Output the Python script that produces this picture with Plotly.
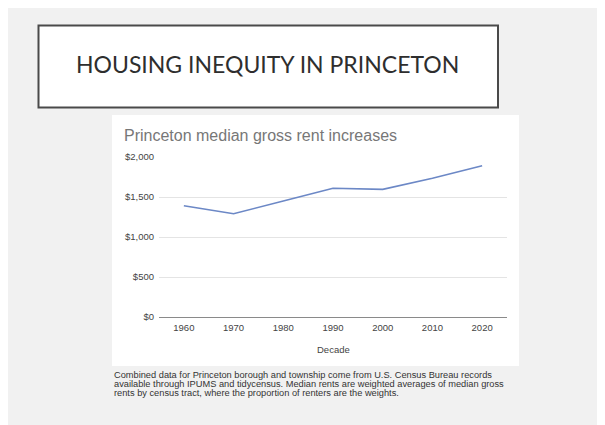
import plotly.graph_objects as go

# median gross rent by decade
decades = ['1960', '1970', '1980', '1990', '2000', '2010', '2020']
median_rent = [1390, 1290, 1450, 1610, 1595, 1735, 1890]
rent_ticks = [0, 500, 1000, 1500, 2000]
rent_labels = ['$0', '$500', '$1,000', '$1,500', '$2,000']

W, H = 605, 425
OFF = 8  # the page body keeps an 8px margin round the figure
# plot area in page pixels
L, R, T, B = 159, 507, 157, 317


def px(x):
    return (x - L) / (R - L)


def py(y):
    return (B - y) / (B - T)


fig = go.Figure()
fig.add_trace(go.Scatter(
    x=decades, y=median_rent, mode='lines',
    line=dict(color='#6c88c6', width=1.6),
    showlegend=False, hoverinfo='x+y'))

shapes = [
    # white chart card
    dict(type='rect', xref='paper', yref='paper', layer='below',
         x0=px(112), x1=px(519), y0=py(366), y1=py(115),
         fillcolor='white', line=dict(width=0)),
    # title box
    dict(type='rect', xref='paper', yref='paper', layer='below',
         x0=px(38.5), x1=px(498), y0=py(107.5), y1=py(25.5),
         fillcolor='white', line=dict(color='#4a4a4a', width=2)),
]

notes = [
    'Combined data for Princeton borough and township come from U.S. Census Bureau records',
    'available through IPUMS and tidycensus. Median rents are weighted averages of median gross',
    'rents by census tract, where the proportion of renters are the weights.',
]

annotations = [
    dict(text='HOUSING INEQUITY IN PRINCETON', xref='paper', yref='paper',
         x=px(267), y=py(64), showarrow=False, xanchor='center', yanchor='middle',
         font=dict(family='Lato', size=23, color='#2e2e2e')),
    dict(text='Princeton median gross rent increases', xref='paper', yref='paper',
         x=px(122), y=py(135), showarrow=False, xanchor='left', yanchor='middle',
         font=dict(family='Arial', size=16, color='#777777')),
    dict(text='Decade', xref='paper', yref='paper',
         x=px(333), y=py(349), showarrow=False, xanchor='center', yanchor='middle',
         font=dict(family='Arial', size=9.5, color='#444444')),
]
for i, line in enumerate(notes):
    annotations.append(dict(
        text=line, xref='paper', yref='paper', x=px(112), y=py(375 + 9 * i),
        showarrow=False, xanchor='left', yanchor='middle',
        font=dict(family='Arial', size=9.25, color='#333333')))

fig.update_layout(
    width=W - OFF, height=H - OFF, autosize=False,
    margin=dict(l=L - OFF, r=W - R, t=T - OFF, b=H - B, pad=0),
    paper_bgcolor='#f1f1f1', plot_bgcolor='white',
    shapes=shapes, annotations=annotations,
    font=dict(family='Arial', size=9.5, color='#444444'),
)
fig.update_xaxes(type='category', range=[-0.5, 6.5], showgrid=False,
                 showline=False, zeroline=False, ticks='', ticklabelstandoff=3,
                 fixedrange=True)
fig.update_yaxes(range=[0, 2000], tickvals=rent_ticks, ticktext=rent_labels,
                 showgrid=True, gridcolor='#e4e4e4', gridwidth=1,
                 zeroline=True, zerolinecolor='#8a8a8a', zerolinewidth=1,
                 ticks='', ticklabelstandoff=4, showline=False, fixedrange=True)

fig.write_html('out.html')
